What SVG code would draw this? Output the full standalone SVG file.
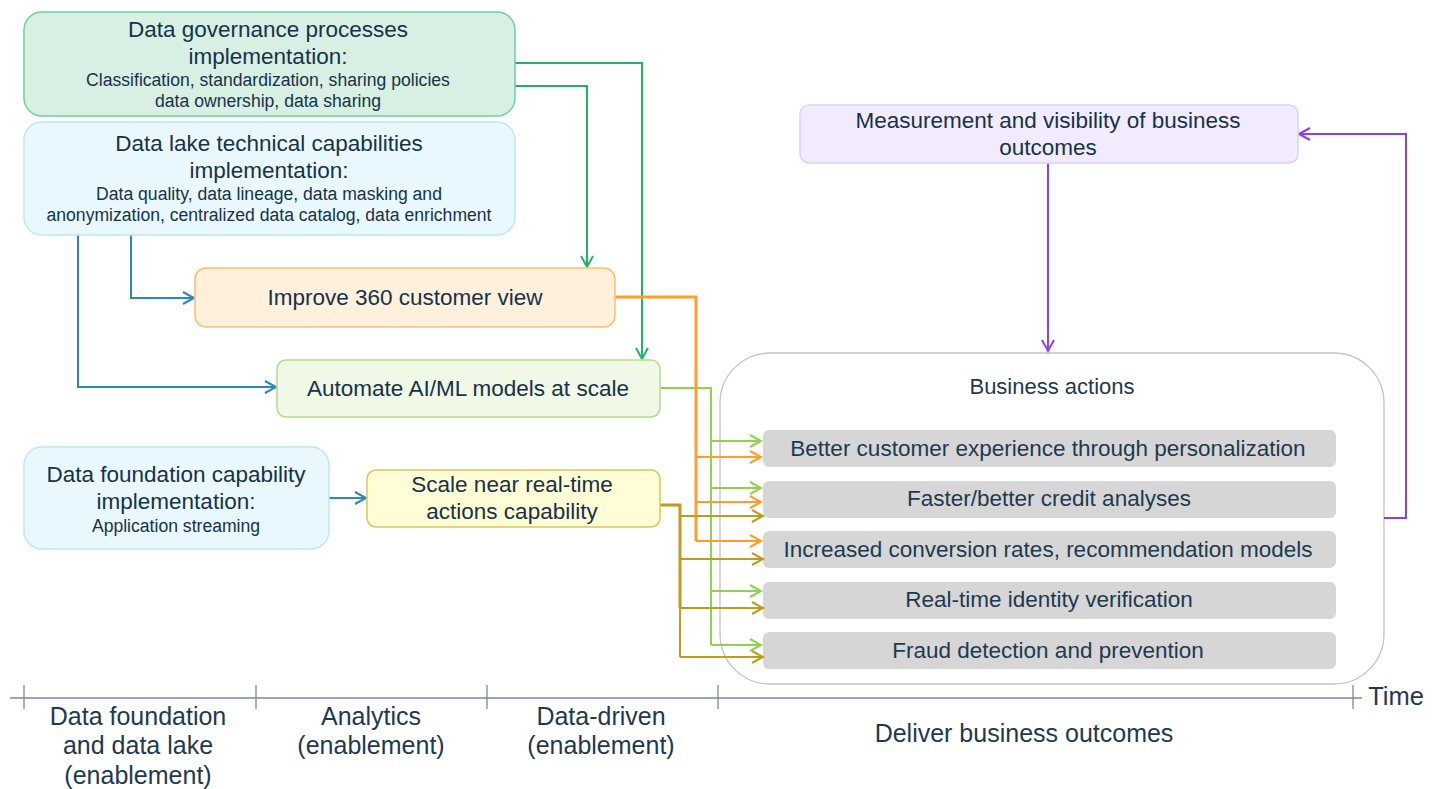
<svg xmlns="http://www.w3.org/2000/svg" width="1439" height="789" viewBox="0 0 1439 789">
<style>
text{font-family:"Liberation Sans",Arial,sans-serif;fill:#16324a;text-anchor:middle}
.l{font-size:22.5px}.s{font-size:17.6px}.a{font-size:22.5px;fill:#1d3a50}.t{font-size:25px;fill:#1d3a50}
.c{fill:none;stroke-width:2}
.box{stroke-width:1.5}
.g{fill:#d6d6d6}
.tick{stroke:#7d8a99;stroke-width:1.3}
</style>
<defs>
<marker id="mG" markerUnits="userSpaceOnUse" markerWidth="16" markerHeight="16" refX="13" refY="8" orient="auto"><path d="M2 2L13 8L2 14" fill="none" stroke="#22b464" stroke-width="2"/></marker>
<marker id="mB" markerUnits="userSpaceOnUse" markerWidth="16" markerHeight="16" refX="13" refY="8" orient="auto"><path d="M2 2L13 8L2 14" fill="none" stroke="#2a88bd" stroke-width="2"/></marker>
<marker id="mO" markerUnits="userSpaceOnUse" markerWidth="16" markerHeight="16" refX="13" refY="8" orient="auto"><path d="M2 2L13 8L2 14" fill="none" stroke="#ff9d2a" stroke-width="2"/></marker>
<marker id="mL" markerUnits="userSpaceOnUse" markerWidth="16" markerHeight="16" refX="13" refY="8" orient="auto"><path d="M2 2L13 8L2 14" fill="none" stroke="#92d050" stroke-width="2"/></marker>
<marker id="mY" markerUnits="userSpaceOnUse" markerWidth="16" markerHeight="16" refX="13" refY="8" orient="auto"><path d="M2 2L13 8L2 14" fill="none" stroke="#c29a1c" stroke-width="2"/></marker>
<marker id="mP" markerUnits="userSpaceOnUse" markerWidth="16" markerHeight="16" refX="13" refY="8" orient="auto"><path d="M2 2L13 8L2 14" fill="none" stroke="#8a3ff5" stroke-width="2"/></marker>
</defs>
<g id="business-actions">
<rect x="720" y="353" width="664" height="331" rx="50" fill="#fff" stroke="#c4c4c4" stroke-width="1.3"/>
<text x="1052" y="394" class="a" style="font-size:22px">Business actions</text>
</g>
<g id="action-1"><rect class="g" x="763" y="430" width="573" height="37" rx="6"/><text x="1048" y="456" class="a">Better customer experience through personalization</text></g>
<g id="action-2"><rect class="g" x="763" y="481" width="573" height="37" rx="6"/><text x="1049" y="506" class="a">Faster/better credit analyses</text></g>
<g id="action-3"><rect class="g" x="763" y="531" width="573" height="37" rx="6"/><text x="1048" y="557" class="a">Increased conversion rates, recommendation models</text></g>
<g id="action-4"><rect class="g" x="763" y="582" width="573" height="37" rx="6"/><text x="1049" y="607" class="a">Real-time identity verification</text></g>
<g id="action-5"><rect class="g" x="763" y="632" width="573" height="37" rx="6"/><text x="1048" y="658" class="a">Fraud detection and prevention</text></g>
<g id="connectors">
<path class="c" stroke="#22b464" marker-end="url(#mG)" d="M515 63H642V359"/>
<path class="c" stroke="#22b464" marker-end="url(#mG)" d="M515 86H587V267"/>
<path class="c" stroke="#2a88bd" marker-end="url(#mB)" d="M131 235V298H194"/>
<path class="c" stroke="#2a88bd" marker-end="url(#mB)" d="M78 235V387H276"/>
<path class="c" stroke="#2a88bd" marker-end="url(#mB)" d="M329 498H366"/>
<g stroke="#92d050">
<path class="c" d="M660 388H711V645"/>
<path class="c" marker-end="url(#mL)" d="M711 441H761"/>
<path class="c" marker-end="url(#mL)" d="M711 488H761"/>
<path class="c" marker-end="url(#mL)" d="M711 591H761"/>
<path class="c" marker-end="url(#mL)" d="M711 645H761"/>
</g>
<g stroke="#ff9d2a">
<path d="M615 297H696V541" fill="none" stroke="#ff9d2a" stroke-width="3"/>
<path class="c" marker-end="url(#mO)" d="M696 457H761"/>
<path class="c" marker-end="url(#mO)" d="M696 502H761"/>
<path class="c" marker-end="url(#mO)" d="M696 541H761"/>
</g>
<g stroke="#c29a1c">
<path class="c" d="M660 505H680V657"/>
<path d="M660 505H680V608" fill="none" stroke-width="3"/>
<path class="c" marker-end="url(#mY)" d="M680 516H763"/>
<path class="c" marker-end="url(#mY)" d="M680 559H763"/>
<path class="c" marker-end="url(#mY)" d="M680 608H763"/>
<path class="c" marker-end="url(#mY)" d="M680 657H763"/>
</g>
<path class="c" stroke="#8a3ff5" marker-end="url(#mP)" d="M1384 518H1406V134H1299"/>
<path class="c" stroke="#8a3ff5" marker-end="url(#mP)" d="M1048 163V351"/>
</g>
<g id="governance"><rect class="box" x="24" y="12" width="491" height="104" rx="18" fill="#d8f0e3" stroke="#6fd19b"/>
<text x="268" y="37" class="l">Data governance processes</text><text x="268" y="64" class="l">implementation:</text>
<text x="268" y="86" class="s">Classification, standardization, sharing policies</text><text x="268" y="107" class="s">data ownership, data sharing</text></g>
<g id="lake"><rect class="box" x="24" y="122" width="491" height="113" rx="18" fill="#e9f8fe" stroke="#bde6fa"/>
<text x="269" y="151" class="l">Data lake technical capabilities</text><text x="269" y="178" class="l">implementation:</text>
<text x="269" y="200" class="s">Data quality, data lineage, data masking and</text><text x="269" y="221" class="s">anonymization, centralized data catalog, data enrichment</text></g>
<g id="customer-view"><rect class="box" x="195" y="268" width="420" height="59" rx="11" fill="#fff0db" stroke="#fdbe6c"/>
<text x="405" y="305" class="l">Improve 360 customer view</text></g>
<g id="automate"><rect class="box" x="277" y="360" width="383" height="57" rx="9" fill="#f0f8e6" stroke="#b5dd86"/>
<text x="468" y="396" class="l">Automate AI/ML models at scale</text></g>
<g id="foundation"><rect class="box" x="24" y="447" width="305" height="102" rx="18" fill="#e9f8fe" stroke="#bde6fa"/>
<text x="176" y="482" class="l">Data foundation capability</text><text x="176" y="509" class="l">implementation:</text>
<text x="176" y="532" class="s">Application streaming</text></g>
<g id="near-real-time"><rect class="box" x="367" y="470" width="293" height="57" rx="9" fill="#fffdd6" stroke="#dcc65a"/>
<text x="512" y="492" class="l">Scale near real-time</text><text x="512" y="519" class="l">actions capability</text></g>
<g id="measurement"><rect class="box" x="800" y="105" width="498" height="58" rx="9" fill="#f1ebfd" stroke="#ddd0fa"/>
<text x="1048" y="128" class="l">Measurement and visibility of business</text><text x="1048" y="155" class="l">outcomes</text></g>
<g id="timeline">
<path d="M10 698H1362" stroke="#7d8a99" stroke-width="1.6" fill="none"/>
<path class="tick" d="M24 685V709M256 685V709M487 685V709M718 685V709M1353 685V709"/>
<text x="1396" y="705" class="t" style="font-size:25.5px">Time</text>
<text x="138" y="725" class="t">Data foundation</text><text x="138" y="754" class="t">and data lake</text><text x="138" y="784" class="t">(enablement)</text>
<text x="371" y="725" class="t">Analytics</text><text x="371" y="754" class="t">(enablement)</text>
<text x="601" y="725" class="t">Data-driven</text><text x="601" y="754" class="t">(enablement)</text>
<text x="1024" y="742" class="t">Deliver business outcomes</text>
</g>
</svg>
